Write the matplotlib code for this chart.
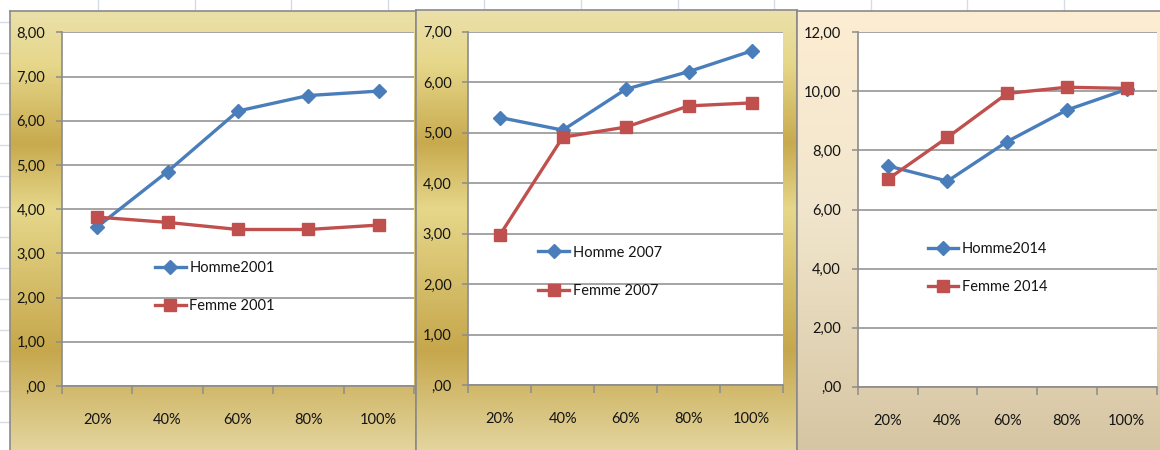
import numpy as np
import matplotlib
matplotlib.use("Agg")
import matplotlib.pyplot as plt
from matplotlib.colors import to_rgb

# ---------------- data ----------------
categories = ['20%', '40%', '60%', '80%', '100%']

homme_2001 = [3.60, 4.85, 6.22, 6.57, 6.67]
femme_2001 = [3.82, 3.70, 3.54, 3.54, 3.64]
homme_2007 = [5.30, 5.05, 5.86, 6.21, 6.62]
femme_2007 = [2.97, 4.91, 5.11, 5.53, 5.59]
homme_2014 = [7.48, 6.96, 8.30, 9.37, 10.07]
femme_2014 = [7.02, 8.44, 9.93, 10.14, 10.10]

labels_2001 = ['Homme2001', 'Femme 2001']
labels_2007 = ['Homme 2007', 'Femme 2007']
labels_2014 = ['Homme2014', 'Femme 2014']

yticks_2001 = [0, 1, 2, 3, 4, 5, 6, 7, 8]
yticks_2007 = [0, 1, 2, 3, 4, 5, 6, 7]
yticks_2014 = [0, 2, 4, 6, 8, 10, 12]

# ---------------- style ----------------
plt.rcParams['font.family'] = ['Lato', 'DejaVu Sans']
W, H = 1160, 450
DPI = 100
BLUE = '#4a7ebb'
RED = '#c0504d'
GRID = '#8c8c8c'
TXT = '#141414'
FS = 10.5

fig = plt.figure(figsize=(W / DPI, H / DPI), dpi=DPI)
fig.patch.set_facecolor('white')


def fax(x0, y0, x1, y1):
    return [x0 / W, 1 - y1 / H, (x1 - x0) / W, (y1 - y0) / H]


# spreadsheet background grid
bg = fig.add_axes([0, 0, 1, 1], zorder=0)
bg.set_xlim(0, W)
bg.set_ylim(H, 0)
bg.axis('off')
for x in np.arange(98, W, 96.6):
    bg.plot([x, x], [0, 12], color='#d6dce6', lw=1)
for y in np.arange(21.7, H, 30.8):
    bg.plot([0, 10], [y, y], color='#d6dce6', lw=1)


def gradient_frame(rect, stops, colors, z, hide_bottom=True):
    a = fig.add_axes(fax(*rect), zorder=z)
    n = 400
    t = np.linspace(0, 1, n)
    cols = np.array([to_rgb(c) for c in colors])
    img = np.stack([np.interp(t, stops, cols[:, k]) for k in range(3)], axis=-1)
    img = img[:, None, :]
    a.imshow(img, aspect='auto', extent=[0, 1, 1, 0], interpolation='bilinear')
    a.set_xlim(0, 1)
    a.set_ylim(1, 0)
    a.set_xticks([])
    a.set_yticks([])
    for s in a.spines.values():
        s.set_color('#8a8a8a')
        s.set_linewidth(1.2)
    if hide_bottom:
        a.spines['bottom'].set_visible(False)
    return a


gold_stops = [0.0, 0.12, 0.30, 0.45, 0.77, 1.0]
gold_cols = ['#ebe0aa', '#e6d78a', '#c8aa4e', '#e6d78a', '#c6a74c', '#e4d6a0']
parch_stops = [0.0, 0.45, 1.0]
parch_cols = ['#fdedd2', '#f1e6cd', '#d6c5a2']

gradient_frame((10, 11, 416, 452), gold_stops, gold_cols, 1)
gradient_frame((416, 10, 797, 452), gold_stops, gold_cols, 1)
gradient_frame((797, 11, 1162, 452), parch_stops, parch_cols, 1)


def fmt(v):
    s = f"{v:.2f}".replace('.', ',')
    if s.startswith('0,'):
        s = s[1:]
    return s


def panel(rect, homme, femme, labels, yticks, leg_anchor):
    ax = fig.add_axes(fax(*rect), zorder=5)
    ax.set_facecolor('white')
    x = np.arange(len(categories))
    ax.plot(x, homme, color=BLUE, lw=2.4, marker='D', ms=7,
            mfc=BLUE, mec=BLUE, label=labels[0], zorder=3)
    ax.plot(x, femme, color=RED, lw=2.4, marker='s', ms=9,
            mfc=RED, mec=RED, label=labels[1], zorder=4)
    ax.set_xlim(-0.5, len(categories) - 0.5)
    ax.set_ylim(yticks[0], yticks[-1])
    ax.set_yticks(yticks)
    ax.set_yticklabels([fmt(v) for v in yticks], fontsize=FS, color=TXT)
    ax.yaxis.grid(True, color=GRID, lw=1.1)
    ax.set_axisbelow(True)
    # category boundaries as ticks, labels at centres
    ax.set_xticks(np.arange(-0.5, len(categories), 1.0))
    ax.set_xticklabels([])
    ax.set_xticks(x, minor=True)
    ax.set_xticklabels(categories, minor=True, fontsize=FS, color=TXT)
    ax.tick_params(axis='x', which='major', length=6, direction='out',
                   color=GRID, width=1.1)
    ax.tick_params(axis='x', which='minor', length=0, pad=19.5)
    ax.tick_params(axis='y', length=4.5, direction='out', color=GRID,
                   width=1.1, pad=7.5)
    for s in ['top', 'right']:
        ax.spines[s].set_visible(False)
    for s in ['left', 'bottom']:
        ax.spines[s].set_color(GRID)
        ax.spines[s].set_linewidth(1.2)
    leg = ax.legend(loc='center left', bbox_to_anchor=leg_anchor,
                    frameon=False, fontsize=FS, handlelength=2.1,
                    handletextpad=0.25, labelspacing=1.65, borderpad=0,
                    borderaxespad=0)
    for t in leg.get_texts():
        t.set_color(TXT)
    return ax


panel((62, 32.3, 414, 386), homme_2001, femme_2001, labels_2001,
      yticks_2001, (0.264, 0.280))
panel((468.3, 31.7, 783.3, 385), homme_2007, femme_2007, labels_2007,
      yticks_2007, (0.222, 0.321))
panel((857.7, 32.3, 1156.7, 386.7), homme_2014, femme_2014, labels_2014,
      yticks_2014, (0.234, 0.334))

fig.savefig('out.png', dpi=DPI, facecolor=fig.get_facecolor())
